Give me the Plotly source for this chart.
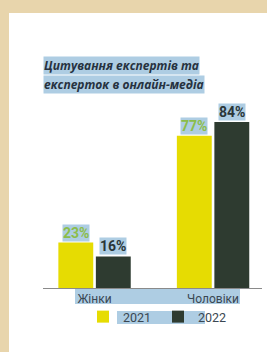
import plotly.graph_objects as go

categories = ["Жінки", "Чоловіки"]
series_names = ["2021", "2022"]
values_2021 = [23, 77]
values_2022 = [16, 84]
title_lines = ["Цитування експертів та", "експерток в онлайн-медіа"]

W, H = 267, 352
ML, MR, MT, MB = 43, 5, 100, 64
PW, PH = W - ML - MR, H - MT - MB

def px(x):
    return (x - ML) / PW

def py(y):
    return (H - MB - y) / PH

YELLOW = "#e6dc02"
DARK = "#2e3b30"
GREEN_TXT = "#8bbd4a"
DARK_TXT = "#2a3638"
HL = "#aecde3"
PARCH = "#e8d5ac"

fig = go.Figure()
fig.add_trace(go.Bar(name=series_names[0], x=categories, y=values_2021,
                     marker=dict(color=YELLOW, line=dict(width=0))))
fig.add_trace(go.Bar(name=series_names[1], x=categories, y=values_2022,
                     marker=dict(color=DARK, line=dict(width=0))))

annotations = []
for vals, shift, col in [(values_2021, -18.75, GREEN_TXT), (values_2022, 18.75, DARK_TXT)]:
    for c, v in zip(categories, vals):
        annotations.append(dict(x=c, y=v, xref="x", yref="y", text=f"{v}%",
                                showarrow=False, xshift=shift, yanchor="bottom", yshift=1,
                                bgcolor=HL, borderpad=0,
                                font=dict(family="Roboto", size=14, color=col, weight="bold")))

for i, (line, yc) in enumerate(zip(title_lines, [65.5, 84])):
    annotations.append(dict(x=px(43), y=py(yc), xref="paper", yref="paper", text=line,
                            showarrow=False, xanchor="left", yanchor="middle",
                            bgcolor=HL, borderpad=0,
                            font=dict(family="Open Sans", size=12, color="#263240",
                                      weight="bold", style="italic")))

shapes = [
    dict(type="rect", xref="paper", yref="paper", x0=px(9), x1=px(W + 2), y0=py(H + 2), y1=py(13),
         fillcolor="white", line=dict(width=0), layer="below"),
    dict(type="rect", xref="paper", yref="paper", x0=px(75), x1=px(240), y0=py(304), y1=py(289),
         fillcolor=HL, line=dict(width=0), layer="below"),
    dict(type="rect", xref="paper", yref="paper", x0=px(117), x1=px(205), y0=py(324), y1=py(311),
         fillcolor=HL, line=dict(width=0), layer="below"),
]

fig.update_layout(
    width=W, height=H,
    margin=dict(l=ML, r=MR, t=MT, b=MB, pad=0, autoexpand=False),
    paper_bgcolor=PARCH, plot_bgcolor="rgba(0,0,0,0)",
    barmode="group", bargap=0.367, bargroupgap=0.07,
    annotations=annotations, shapes=shapes,
    showlegend=True,
    legend=dict(orientation="h", xref="container", yref="container",
                x=83 / W, xanchor="left", y=(H - 317) / H, yanchor="middle",
                entrywidth=30, entrywidthmode="pixels",
                bgcolor="rgba(0,0,0,0)",
                font=dict(family="Roboto", size=12.5, color="#3a4752"),
                traceorder="normal"),
    xaxis=dict(range=[-0.435, 1.413], showline=True, linecolor="#8a8a8a", linewidth=1,
               showgrid=False, zeroline=False, ticks="",
               tickfont=dict(family="Roboto", size=12, color="#3a4752")),
    yaxis=dict(range=[0, PH / 1.976], visible=False, showgrid=False, zeroline=False),
)

fig.write_html("out.html", config={"displayModeBar": False},
               post_script="document.body.style.margin='0px';")
